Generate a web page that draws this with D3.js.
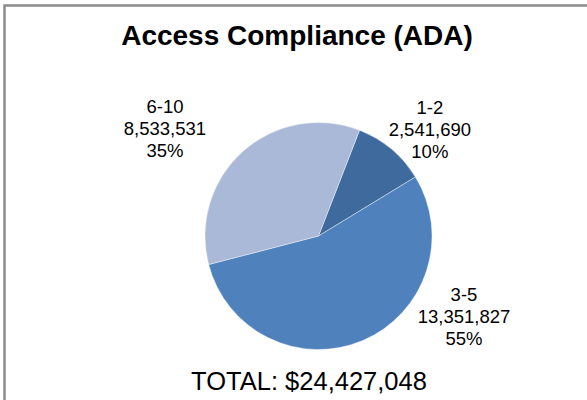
<!DOCTYPE html>
<html>
<head>
<meta charset="utf-8">
<script src="https://cdn.jsdelivr.net/npm/d3@7"></script>
<style>
  body { margin: 0; background: #fff; }
  svg { display: block; font-family: "Liberation Sans", Arial, Helvetica, sans-serif; }
</style>
</head>
<body>
<div id="chart"></div>
<script>
/* Pie chart of ADA access compliance cost by year group */

const categories = ["1-2", "3-5", "6-10"];
const values = [2541690, 13351827, 8533531];
const colors = ["#3f6a9e", "#4f81bd", "#a9b9d7"];

const width = 587,
      height = 400,
      cx = 318.5, cy = 236, radius = 113.5;

// where each label block sits: angle (deg, clockwise from 12 o'clock) and distance from centre
const labelSpots = [[46.7, 153], [119.4, 167], [304.6, 186.5]];

let data = categories.map((c, i) => ({ cat: c, num: values[i] }));
let total = d3.sum(values);

let svg = d3.select("#chart")
    .append("svg")
    .attr("width", width)
    .attr("height", height)
    .attr("viewBox", [0, 0, width, height]);

/* chart frame, runs off the right and bottom edge */
svg.append("rect")
    .attr("x", 4.5)
    .attr("y", 5.5)
    .attr("width", width + 20)
    .attr("height", height + 20)
    .attr("fill", "#fff")
    .attr("stroke", "#8c8c8c")
    .attr("stroke-width", 2.5);

svg.append("text")
    .attr("x", 297)
    .attr("y", 45)
    .attr("text-anchor", "middle")
    .style("font-size", "28px")
    .style("font-weight", "bold")
    .text("Access Compliance (ADA)");

let start = 21.2 * Math.PI / 180; // first slice starts a little past 12 o'clock
let pie = d3.pie()
    .value(d => d.num)
    .sort(null)
    .startAngle(start)
    .endAngle(start + 2 * Math.PI);

let arc = d3.arc().innerRadius(0).outerRadius(radius);

let g = svg.append("g")
    .attr("transform", `translate(${cx},${cy})`);

g.selectAll("path")
    .data(pie(data))
    .join("path")
    .attr("d", arc)
    .attr("fill", (d, i) => colors[i])
    .attr("stroke", "#ffffff")
    .attr("stroke-width", 0.4);

/* labels: name, value, percent */
let fmt = d3.format(",");
let pct = d3.format(".0%");

let lab = g.selectAll(".lab")
    .data(data)
    .join("text")
    .attr("class", "lab")
    .attr("text-anchor", "middle")
    .style("font-size", "18.5px")
    .attr("transform", (d, i) => {
        let p = d3.pointRadial(labelSpots[i][0] * Math.PI / 180, labelSpots[i][1]);
        return `translate(${p[0]},${p[1]})`;
    });

lab.append("tspan").attr("x", 0).attr("y", -17).text(d => d.cat);
lab.append("tspan").attr("x", 0).attr("y", 5).text(d => fmt(d.num));
lab.append("tspan").attr("x", 0).attr("y", 27).text(d => pct(d.num / total));

svg.append("text")
    .attr("x", 309)
    .attr("y", 390)
    .attr("text-anchor", "middle")
    .style("font-size", "25.5px")
    .text("TOTAL: $" + fmt(total));
</script>
</body>
</html>
